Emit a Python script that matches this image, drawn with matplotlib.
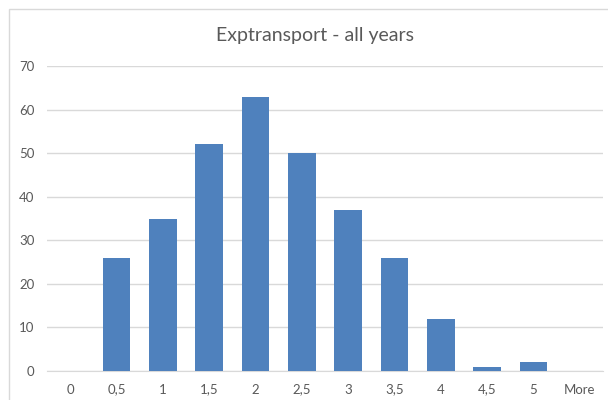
import matplotlib
matplotlib.use("Agg")
import matplotlib.pyplot as plt
from matplotlib.patches import Rectangle

plt.rcParams['font.family'] = ['Lato', 'DejaVu Sans']

bins = ['0', '0,5', '1', '1,5', '2', '2,5', '3', '3,5', '4', '4,5', '5', 'More']
counts = [0, 26, 35, 52, 63, 50, 37, 26, 12, 1, 2, 0]

fig = plt.figure(figsize=(6.08, 4.0), dpi=100)

# chart area frame, clipped on the right and bottom
fig.patches.append(Rectangle((9 / 608, -0.05), 1.2, 1 - 9 / 400 + 0.05,
                             transform=fig.transFigure, fill=False,
                             edgecolor='#d9d9d9', linewidth=1.0))

ax = fig.add_axes([47 / 608, 1 - 371 / 400, (603 - 47) / 608, (371 - 66) / 400])
x = range(len(bins))
ax.bar(x, counts, width=0.6, color='#4f81bd', zorder=3)

ax.set_ylim(0, 70)
ax.set_yticks(range(0, 71, 10))
ax.set_xlim(-0.5, len(bins) - 0.5)
ax.set_xticks(list(x))
ax.set_xticklabels(bins)
ax.grid(axis='y', color='#d9d9d9', linewidth=1.0, zorder=0)
for s in ['top', 'right', 'left']:
    ax.spines[s].set_visible(False)
ax.spines['bottom'].set_color('#d9d9d9')
ax.tick_params(length=0, labelsize=9.5, colors='#595959')
ax.tick_params(axis='x', pad=9)
ax.tick_params(axis='y', pad=9)

fig.text(0.518, 1 - 35 / 400, 'Exptransport - all years', ha='center', va='center',
         fontsize=14, color='#595959')

fig.savefig('out.png', dpi=100)
